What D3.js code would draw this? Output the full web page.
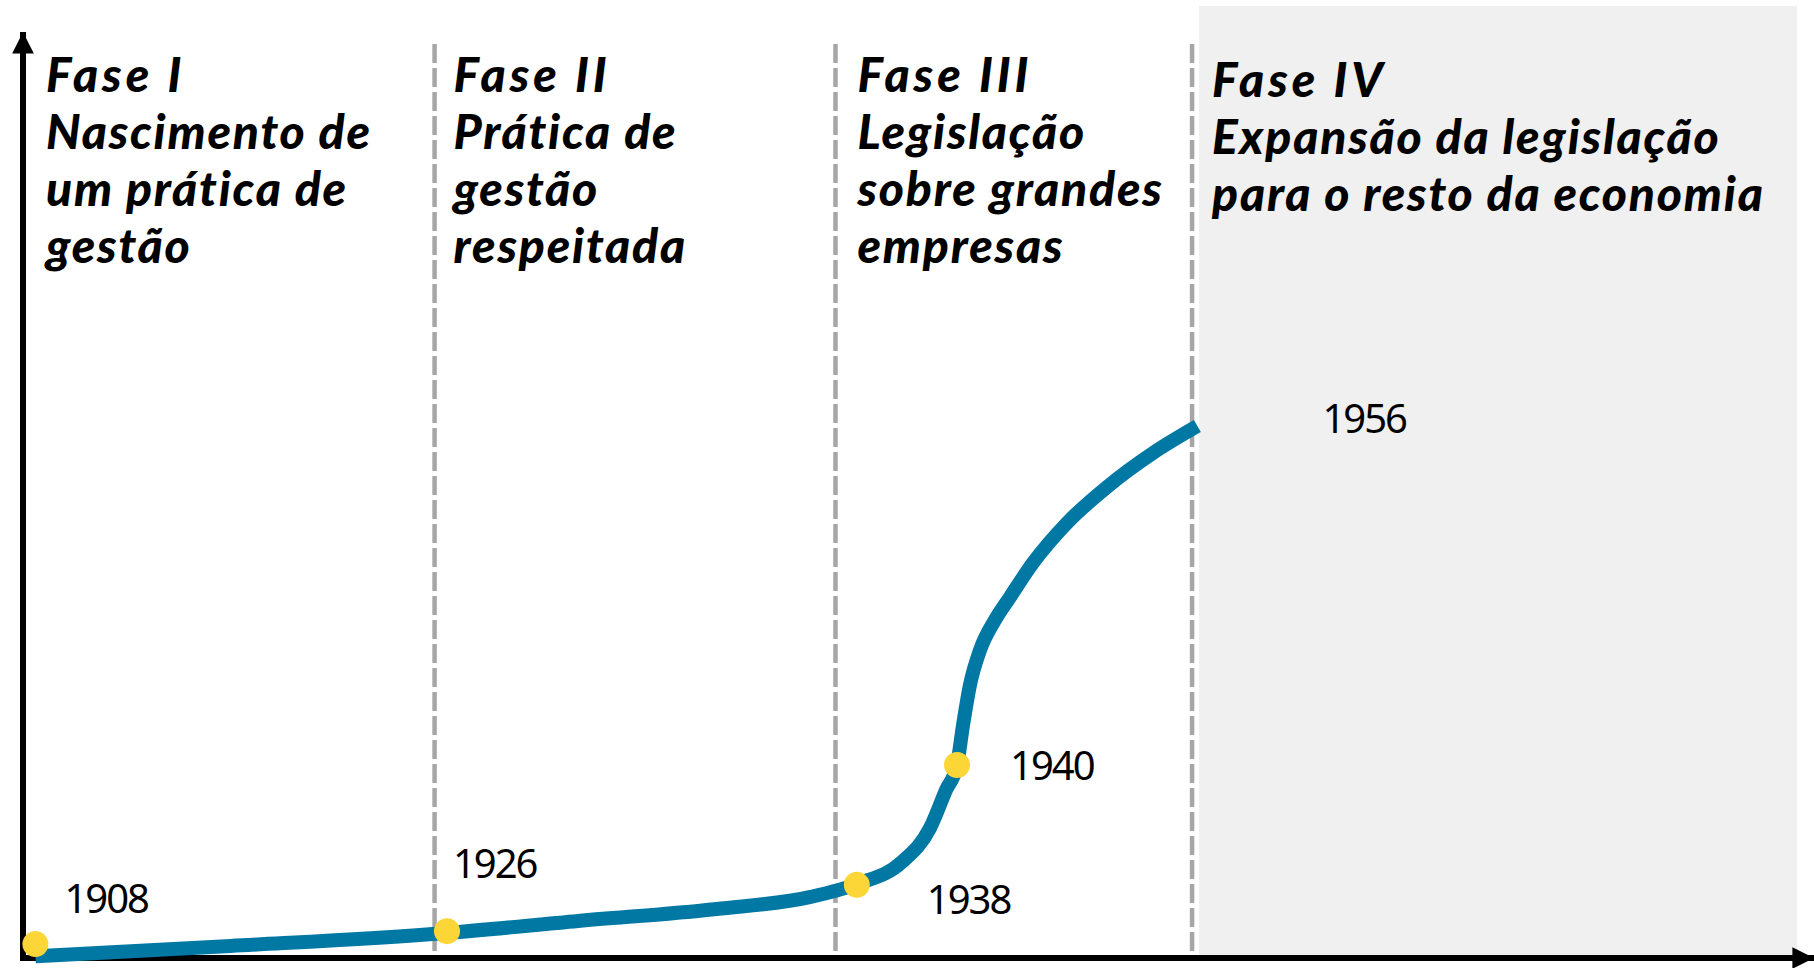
<!DOCTYPE html>
<html>
<head>
<meta charset="utf-8">
<script src="https://cdn.jsdelivr.net/npm/d3@7"></script>
<style>
  body { margin: 0; background: #fff; }
  .phase-title { font-family: "Lato", "Open Sans", sans-serif; font-weight: 900; font-style: italic; }
  .year { font-family: "Noto Sans", sans-serif; letter-spacing: -2px; }
</style>
</head>
<body>
<div class="chart"></div>
<script>
// Curve through the four phases (abstract units: position 0-100, level 0-100)
const curvePos = [0.7, 11.7, 23.9, 31.3, 39.1, 44.4, 47.0, 49.55, 51.13, 52.03, 52.65, 52.99, 53.38, 53.95, 54.79, 55.64, 56.93, 58.85, 61.1, 63.7, 66.2];
const curveLevel = [0.2, 1.3, 2.7, 4.0, 5.3, 6.6, 8.0, 10.37, 14.04, 18.14, 20.84, 25.16, 29.48, 33.26, 36.5, 38.98, 42.66, 46.98, 50.86, 54.54, 57.45];

// Milestones (yellow dots)
const milestoneYears = [1908, 1926, 1938, 1940];
const milestonePos = [0.7, 23.9, 47.0, 52.65];
const milestoneLevel = [1.5, 2.9, 7.9, 20.84];
const endYear = 1956;

// Phase boundaries and titles
const phaseStart = [0, 23.2, 45.8, 65.9];
const phaseTitles = [
  ["Fase I", "Nascimento  de", "um prática de", "gestão"],
  ["Fase II", "Prática de", "gestão", "respeitada"],
  ["Fase III", "Legislação", "sobre grandes", "empresas"],
  ["Fase IV", "Expansão da legislação", "para o resto da economia"]
];

const width = 1814;
const height = 968;

const svg = d3
  .select(".chart")
  .append("svg")
  .attr("width", width)
  .attr("height", height);

const xScale = d3.scaleLinear().domain([0, 100]).range([23, 1797]);
const yScale = d3.scaleLinear().domain([0, 100]).range([958, 32]);

// shaded last phase
svg
  .append("rect")
  .attr("x", xScale(phaseStart[3]) + 7)
  .attr("y", 6)
  .attr("width", xScale(100) - xScale(phaseStart[3]) - 7)
  .attr("height", yScale(0) - 6)
  .attr("fill", "#f0f0f0");

// dashed phase separators
svg
  .append("g")
  .selectAll("line")
  .data(phaseStart.slice(1))
  .join("line")
  .attr("x1", (d) => xScale(d))
  .attr("x2", (d) => xScale(d))
  .attr("y1", 44)
  .attr("y2", yScale(0))
  .attr("stroke", "#a6a6a6")
  .attr("stroke-width", 4.5)
  .attr("stroke-dasharray", "19,5");

// phase titles
const titleOffset = [23, 19, 22, 20];
const titles = svg
  .append("g")
  .selectAll("text")
  .data(phaseTitles)
  .join("text")
  .attr("class", "phase-title")
  .attr("font-size", 48)
  .attr("x", (d, i) => xScale(phaseStart[i]) + titleOffset[i])
  .attr("y", (d, i) => (i === 3 ? 97 : 92));

titles
  .selectAll("tspan")
  .data((d, i) => d.map((t) => ({ t: t, i: i })))
  .join("tspan")
  .attr("x", function (d) {
    return xScale(phaseStart[d.i]) + titleOffset[d.i];
  })
  .attr("dy", (d, j) => (j === 0 ? 0 : 57))
  .attr("letter-spacing", (d, j) => (j === 0 ? 4 : 1.8))
  .text((d) => d.t);

// axes
svg
  .append("defs")
  .append("marker")
  .attr("id", "arrow")
  .attr("viewBox", "0 0 10 10")
  .attr("refX", 10)
  .attr("refY", 5)
  .attr("markerWidth", 3.6)
  .attr("markerHeight", 3.6)
  .attr("orient", "auto")
  .append("path")
  .attr("d", "M0,0L10,5L0,10Z")
  .attr("fill", "black");

svg
  .append("line")
  .attr("x1", xScale(0))
  .attr("x2", xScale(0))
  .attr("y1", yScale(0) + 3)
  .attr("y2", yScale(100))
  .attr("stroke", "black")
  .attr("stroke-width", 6)
  .attr("marker-end", "url(#arrow)");

svg
  .append("line")
  .attr("x1", xScale(0) - 3)
  .attr("x2", width)
  .attr("y1", yScale(0))
  .attr("y2", yScale(0))
  .attr("stroke", "black")
  .attr("stroke-width", 6)
  .attr("marker-end", "url(#arrow)");

// the curve
const curveData = curvePos.map((p, i) => ({ p: p, v: curveLevel[i] }));
const line = d3
  .line()
  .x((d) => xScale(d.p))
  .y((d) => yScale(d.v))
  .curve(d3.curveMonotoneX);

svg
  .append("path")
  .datum(curveData)
  .attr("d", line)
  .attr("fill", "none")
  .attr("stroke", "#0078a4")
  .attr("stroke-width", 14);

// milestone dots
const milestones = milestoneYears.map((y, i) => ({
  year: y,
  p: milestonePos[i],
  v: milestoneLevel[i]
}));

svg
  .append("g")
  .selectAll("circle")
  .data(milestones)
  .join("circle")
  .attr("cx", (d) => xScale(d.p))
  .attr("cy", (d) => yScale(d.v))
  .attr("r", 13)
  .attr("fill", "#fcd637");

// year labels, offset from their dot
const labelShift = {
  1908: [29, -46],
  1926: [6, -68],
  1938: [70, 15],
  1940: [53, 1]
};

svg
  .append("g")
  .selectAll("text")
  .data(milestones)
  .join("text")
  .attr("class", "year")
  .attr("font-size", 40)
  .attr("x", (d) => xScale(d.p) + labelShift[d.year][0])
  .attr("y", (d) => yScale(d.v) + labelShift[d.year][1])
  .attr("dy", "0.36em")
  .text((d) => d.year);

const last = curveData[curveData.length - 1];
svg
  .append("text")
  .attr("class", "year")
  .attr("font-size", 40)
  .attr("x", xScale(last.p) + 125)
  .attr("y", yScale(last.v) - 7)
  .attr("dy", "0.36em")
  .text(endYear);
</script>
</body>
</html>
